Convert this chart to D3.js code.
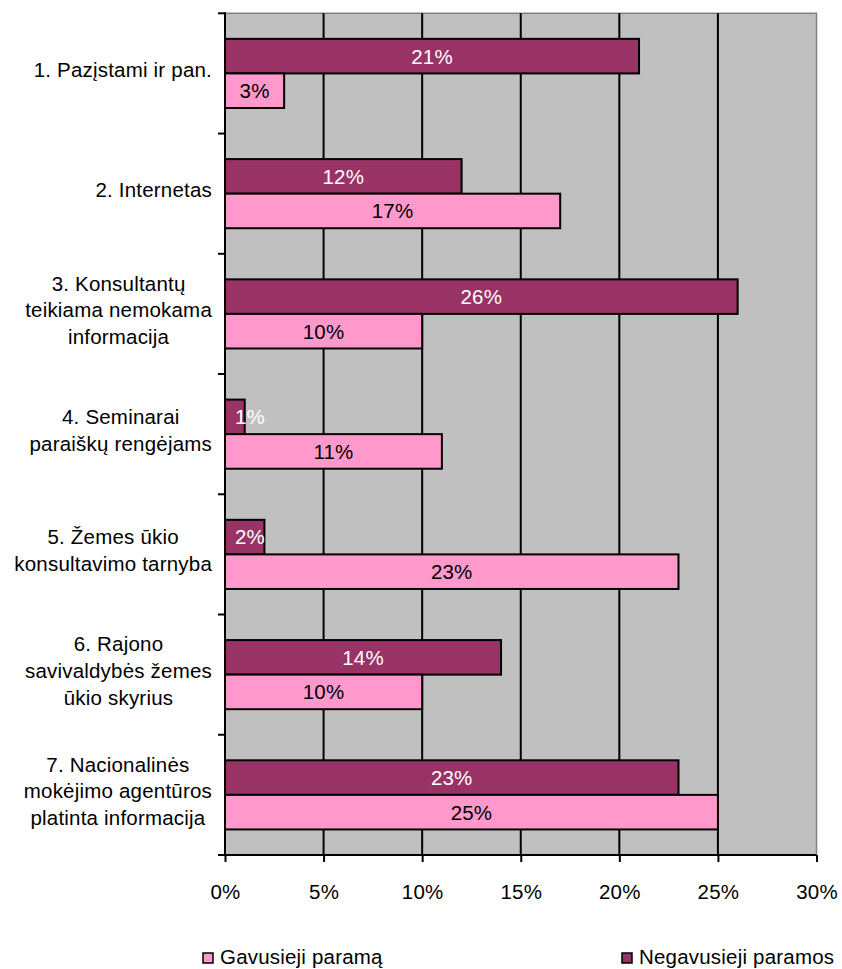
<!DOCTYPE html>
<html>
<head>
<meta charset="utf-8">
<script src="https://cdn.jsdelivr.net/npm/d3@7"></script>
<style>
  body { margin: 0; background: #fff; }
  svg text { font-family: "Liberation Sans", Arial, sans-serif; }
</style>
</head>
<body>
<div id="chart"></div>
<script>
// categories (line breaks as in the original)
const categories = [
    ["1. Pazįstami ir pan."],
    ["2. Internetas"],
    ["3. Konsultantų", "teikiama nemokama", "informacija"],
    ["4. Seminarai", "paraiškų rengėjams"],
    ["5. Žemes ūkio", "konsultavimo tarnyba"],
    ["6. Rajono", "savivaldybės žemes", "ūkio skyrius"],
    ["7. Nacionalinės", "mokėjimo agentūros", "platinta informacija"]
];
const seriesNames = ["Negavusieji paramos", "Gavusieji paramą"];
const negavusieji = [21, 12, 26, 1, 2, 14, 23];
const gavusieji = [3, 17, 10, 11, 23, 10, 25];
const xTicks = [0, 5, 10, 15, 20, 25, 30];

function chart() {
    const width = 842,
        height = 969;
    const left = 225, right = 816.5, top = 13.3, bottom = 855;
    const fontSize = 20.5;

    const svg = d3.select("#chart").append("svg")
        .attr("width", width)
        .attr("height", height)
        .style("font-size", fontSize + "px")
        .style("letter-spacing", "0.2px");

    const colors = {"Negavusieji paramos": "#993366", "Gavusieji paramą": "#FF99CC"};
    const textColors = {"Negavusieji paramos": "#fff", "Gavusieji paramą": "#000"};

    const x = d3.scaleLinear().domain([0, 30]).range([left, right]);
    const y = d3.scaleBand().domain(d3.range(categories.length))
        .range([top, bottom]).paddingInner(0.425).paddingOuter(0.2125);
    const ySub = d3.scaleBand().domain(seriesNames).range([0, y.bandwidth()]);

    // plot background
    svg.append("rect")
        .attr("x", left).attr("y", top)
        .attr("width", right - left).attr("height", bottom - top)
        .attr("fill", "#C0C0C0")
        .attr("stroke", "#808080").attr("stroke-width", 1.5);

    // gridlines
    svg.append("g").selectAll("line")
        .data(xTicks.filter(d => d > 0 && d < 30))
        .join("line")
        .attr("x1", d => x(d)).attr("x2", d => x(d))
        .attr("y1", top).attr("y2", bottom)
        .attr("stroke", "#000").attr("stroke-width", 2);

    // bars
    const rows = categories.map((c, i) => [
        {cat: i, series: seriesNames[0], value: negavusieji[i]},
        {cat: i, series: seriesNames[1], value: gavusieji[i]}
    ]).flat();

    const bars = svg.append("g").selectAll("g").data(rows).join("g")
        .attr("transform", d => `translate(0,${y(d.cat) + ySub(d.series)})`);

    bars.append("rect")
        .attr("x", x(0))
        .attr("y", 0)
        .attr("width", d => x(d.value) - x(0))
        .attr("height", ySub.bandwidth())
        .attr("fill", d => colors[d.series])
        .attr("stroke", "#000").attr("stroke-width", 2);

    bars.append("text")
        .attr("x", d => Math.max((x(0) + x(d.value)) / 2, x(0) + 25))
        .attr("y", ySub.bandwidth() / 2)
        .attr("dy", "0.36em")
        .attr("text-anchor", "middle")
        .attr("fill", d => textColors[d.series])
        .text(d => d.value + "%");

    // axes
    const xAxis = d3.axisBottom(x).tickValues(xTicks).tickSize(7).tickFormat(d => d + "%");
    svg.append("g")
        .attr("transform", `translate(0,${bottom})`)
        .call(xAxis)
        .call(g => g.selectAll(".tick line").attr("stroke", "#000").attr("stroke-width", 2))
        .call(g => g.select(".domain").remove())
        .call(g => g.selectAll(".tick text")
            .attr("y", 29).attr("dy", "0.71em")
            .attr("fill", "#000")
            .style("font-size", fontSize + "px")
            .style("font-family", "\"Liberation Sans\", Arial, sans-serif"));

    const catTicks = d3.range(categories.length + 1).map(i => top + i * (bottom - top) / categories.length);
    svg.append("g").selectAll("line").data(catTicks).join("line")
        .attr("x1", left - 7).attr("x2", left)
        .attr("y1", d => d).attr("y2", d => d)
        .attr("stroke", "#000").attr("stroke-width", 2);

    svg.append("line")
        .attr("x1", left).attr("x2", left).attr("y1", top - 1).attr("y2", bottom)
        .attr("stroke", "#000").attr("stroke-width", 2);
    svg.append("line")
        .attr("x1", left).attr("x2", right).attr("y1", bottom).attr("y2", bottom)
        .attr("stroke", "#000").attr("stroke-width", 2);

    // category labels: lines centred, block right-aligned
    const lineH = 26.7;
    const labelRight = 212;
    categories.forEach((lines, i) => {
        const g = svg.append("g");
        const cy = y(i) + y.bandwidth() / 2 - 4;
        const texts = lines.map((t, j) => g.append("text")
            .attr("y", cy + (j - (lines.length - 1) / 2) * lineH)
            .attr("dy", "0.36em")
            .attr("fill", "#000")
            .text(t));
        const maxW = d3.max(texts, t => t.node().getComputedTextLength());
        texts.forEach(t => t.attr("x", labelRight - maxW / 2).attr("text-anchor", "middle"));
    });

    // legend
    const legend = [
        {name: "Gavusieji paramą", x: 203},
        {name: "Negavusieji paramos", x: 622}
    ];
    const lg = svg.append("g").selectAll("g").data(legend).join("g")
        .attr("transform", d => `translate(${d.x},953)`);
    lg.append("rect")
        .attr("width", 10).attr("height", 10)
        .attr("fill", d => colors[d.name])
        .attr("stroke", "#000").attr("stroke-width", 1.5);
    lg.append("text")
        .attr("x", 17).attr("y", 11)
        .attr("fill", "#000")
        .text(d => d.name);
}

window.onload = function() {
    chart();
};
</script>
</body>
</html>
